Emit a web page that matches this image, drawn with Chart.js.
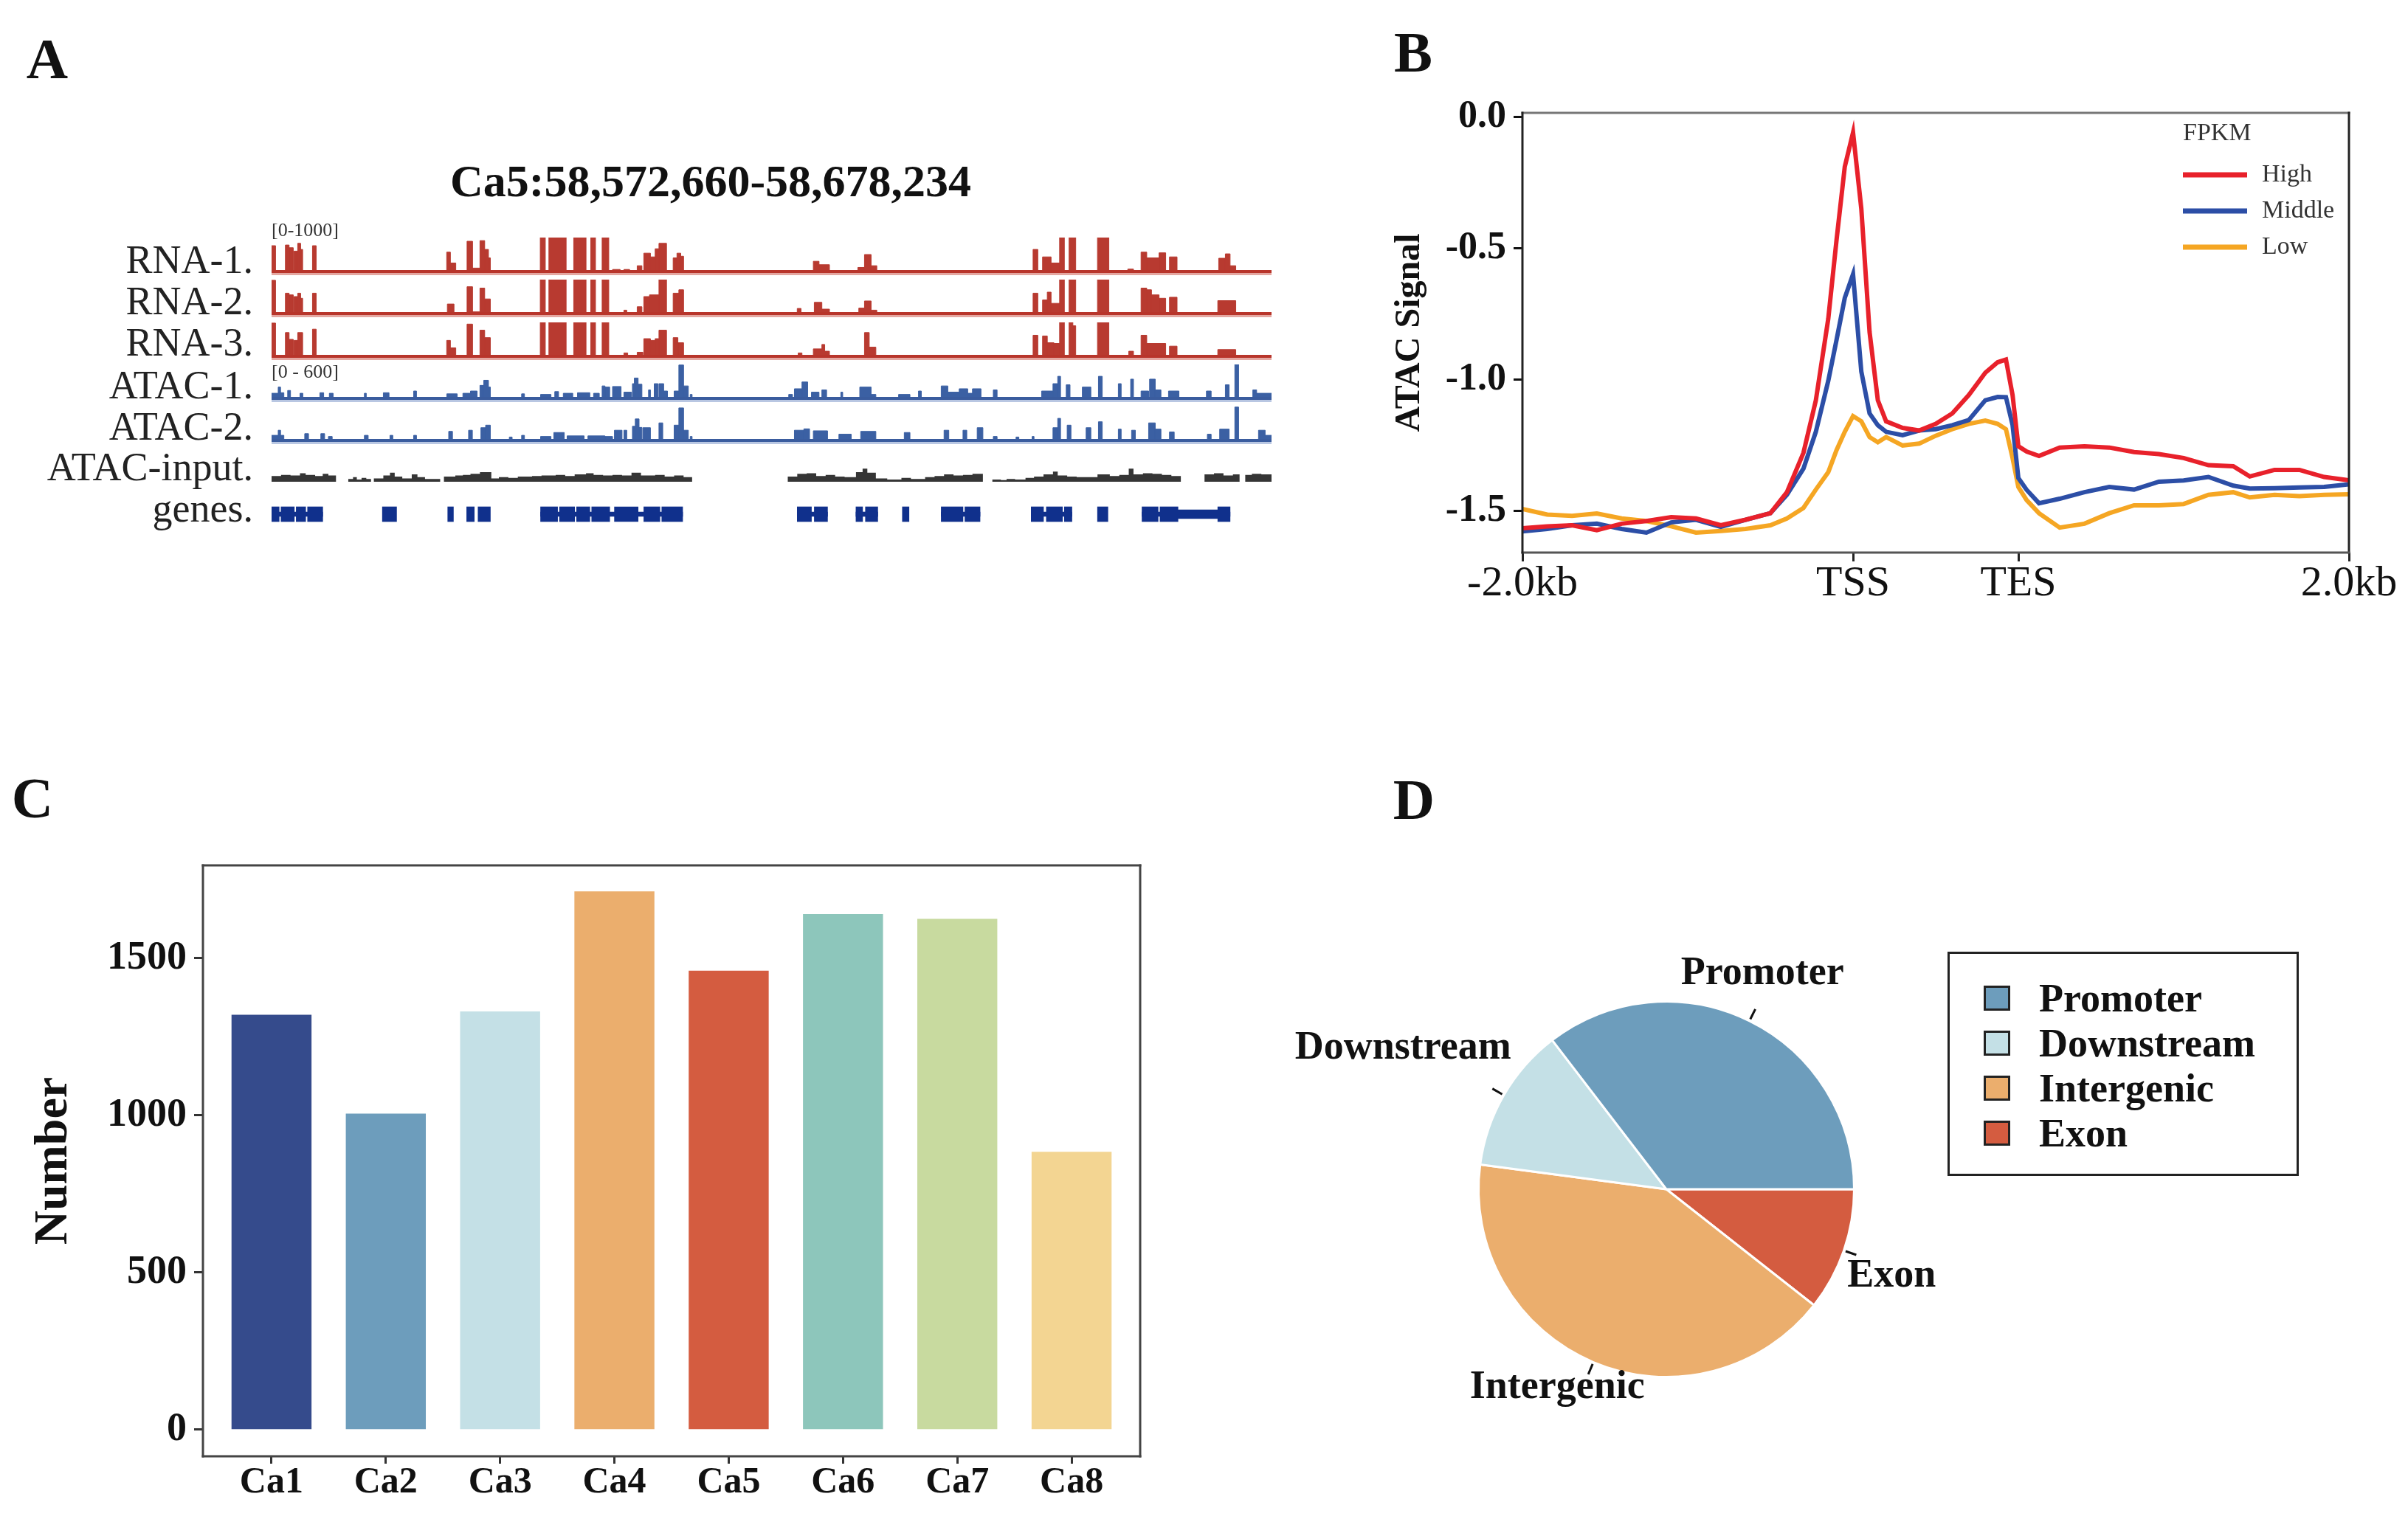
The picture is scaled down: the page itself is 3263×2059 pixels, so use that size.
<!DOCTYPE html>
<html>
<head>
<meta charset="utf-8">
<title>ATAC / RNA figure</title>
<script src="https://cdn.jsdelivr.net/npm/chart.js@4.4.1/dist/chart.umd.min.js"></script>
<style>
  html, body { margin: 0; padding: 0; background: #fff; }
  body { position: relative; width: 3263px; height: 2059px; overflow: hidden;
         font-family: "Liberation Serif", "Times New Roman", serif; color: #111; }
  canvas { position: absolute; }
  .txt { position: absolute; white-space: nowrap; line-height: 1; }
  #legendD { position: absolute; left: 2639px; top: 1290px; width: 476px; height: 304px;
             box-sizing: border-box; border: 3px solid #222; }
  .sw { position: absolute; width: 36px; height: 34px; box-sizing: border-box; border: 3px solid #222; }
</style>
</head>
<body>
<script>
// ---------- panel A : browser tracks ----------
const locusChrom = 'Ca5';
const locusStart = 58572660;
const locusEnd = 58678234;
const trackNames = ['RNA-1.', 'RNA-2.', 'RNA-3.', 'ATAC-1.', 'ATAC-2.', 'ATAC-input.', 'genes.'];
const rnaRange = 1000;
const atacRange = 600;

// [start kb, end kb, value]
const rna1Segs = [
  [0.0,0.42,760],[1.46,1.85,780],[1.85,2.29,700],[2.37,2.76,600],[2.76,3.07,830],[3.07,3.28,650],[4.32,4.71,760],
  [18.49,18.88,570],[18.88,19.45,250],[20.64,21.22,890],[21.22,22.0,100],[22.0,22.5,910],[22.5,22.9,650],[22.9,23.1,400],
  [28.37,28.9,1000],[29.28,31.1,1000],[31.9,33.2,1000],[33.7,34.2,1000],[34.9,35.6,1000],
  [36.0,36.8,60],[37.2,37.8,60],[38.6,39.1,170],[39.3,40.0,540],[40.0,40.5,430],[40.5,40.9,670],[40.9,41.7,830],
  [42.4,42.8,400],[42.8,43.2,540],[43.2,43.5,450],
  [57.2,57.8,300],[57.8,58.9,200],[61.9,62.6,120],[62.6,63.3,500],[63.3,63.9,170],
  [80.4,80.9,650],[81.4,82.3,430],[82.3,83.2,250],[83.2,83.7,1000],[84.2,84.9,1000],[87.2,88.4,1000],
  [90.4,91.0,70],[91.8,92.4,570],[92.4,93.7,400],[93.7,94.4,550],[94.8,95.6,430],
  [100.0,100.7,390],[100.7,101.2,520],[101.2,101.8,170]
];
const rna2Segs = [
  [0.0,0.42,980],[1.46,1.85,600],[1.85,2.29,550],[2.37,2.76,500],[2.76,3.07,600],[3.07,3.28,450],[4.32,4.71,600],
  [18.56,19.26,280],[20.64,21.22,790],[21.22,22.0,50],[22.0,22.5,750],[22.5,23.1,430],
  [28.37,28.9,1000],[29.28,31.1,1000],[31.9,33.2,1000],[33.7,34.2,1000],[34.9,35.6,1000],
  [37.2,37.5,100],[38.6,39.1,200],[39.3,39.9,500],[39.9,40.9,550],[40.9,41.7,1000],[42.4,43.0,600],[43.0,43.5,700],
  [55.5,55.9,150],[57.3,58.1,330],[58.1,58.9,130],[62.0,62.6,160],[62.6,63.3,370],[63.3,63.9,100],
  [80.4,80.9,600],[81.4,81.9,400],[81.9,82.3,630],[82.3,83.2,300],[83.2,83.7,1000],[84.2,84.9,1000],[87.2,88.4,1000],
  [91.8,92.4,750],[92.4,92.9,700],[92.9,93.7,550],[93.7,94.4,450],[94.8,95.6,480],
  [99.9,101.8,380]
];
const rna3Segs = [
  [0.0,0.42,980],[1.46,1.85,700],[1.85,2.29,500],[2.37,2.76,470],[2.76,3.28,700],[4.32,4.71,800],
  [18.49,18.88,470],[18.88,19.45,250],[20.64,21.22,950],[22.0,22.5,770],[22.5,23.1,550],
  [28.37,28.9,1000],[29.28,31.1,1000],[31.9,33.2,1000],[33.7,34.2,1000],[34.9,35.6,1000],
  [37.2,37.6,100],[38.6,39.2,120],[39.3,40.0,520],[40.0,40.5,470],[40.5,40.9,520],[40.9,41.7,770],[42.4,42.9,550],[42.9,43.5,400],
  [55.6,56.0,100],[57.2,58.1,220],[58.1,58.4,350],[58.4,58.9,150],[62.6,63.1,700],[63.1,63.8,270],
  [80.4,80.9,620],[81.4,81.9,600],[81.9,82.6,400],[82.6,83.2,380],[83.2,83.7,1000],[84.2,84.6,1000],[84.6,84.9,900],[87.2,88.4,1000],
  [90.5,91.0,150],[91.8,92.4,620],[92.4,94.4,380],[94.8,95.6,300],
  [99.9,101.8,200]
];
const atac1Segs = [
  [0.0,0.7,90],[0.7,0.95,200],[0.95,1.3,100],[1.7,2.0,140],[3.0,3.3,90],[5.1,5.5,100],[6.1,6.5,90],[9.8,10.0,90],
  [11.8,12.4,100],[15.0,15.3,130],[18.5,19.6,80],[20.2,21.0,90],[21.0,21.7,130],[22.0,22.4,230],[22.4,22.9,320],
  [22.9,23.1,200],[26.4,26.7,80],[28.4,29.5,70],[29.9,30.3,120],[30.8,31.8,90],[32.3,33.6,100],[34.0,34.6,90],
  [34.9,35.2,220],[35.2,35.7,200],[36.0,36.9,210],[37.2,38.0,110],[38.1,38.3,260],[38.3,38.7,360],[38.7,39.1,250],
  [39.8,40.0,150],[40.4,40.8,260],[40.9,41.4,260],[41.4,41.8,130],[42.5,43.0,130],[43.0,43.5,590],[43.5,44.0,220],
  [44.2,44.4,70],[54.6,55.0,70],[55.2,56.0,170],[56.0,56.6,290],[57.0,57.8,110],[58.1,58.6,150],[60.1,60.3,110],
  [62.1,63.3,200],[63.3,63.8,70],[66.2,67.4,70],[68.3,68.6,130],[70.7,71.4,220],[71.4,72.6,110],[72.6,73.5,170],
  [73.5,74.0,90],[74.0,74.9,170],[76.2,76.6,150],[81.3,82.5,130],[82.5,83.0,260],[83.0,83.3,390],[83.9,84.3,240],
  [85.6,86.5,200],[87.3,87.7,390],[89.4,89.7,260],[90.7,91.0,340],[91.8,92.6,130],[92.7,93.3,340],[93.3,93.9,150],
  [94.7,95.8,130],[98.7,99.2,130],[100.7,101.1,240],[101.7,102.1,600],[103.6,104.0,150],[104.0,105.6,90]
];
const atac2Segs = [
  [0.0,0.7,90],[0.7,0.95,180],[0.95,1.3,90],[3.5,3.9,120],[5.2,5.6,120],[6.0,6.4,70],[9.8,10.2,90],[12.5,12.8,90],
  [15.0,15.3,90],[18.7,19.1,160],[20.8,21.2,180],[22.1,22.6,225],[22.6,23.1,270],[25.1,25.4,60],[26.4,26.7,90],
  [28.4,29.5,70],[29.8,30.9,140],[31.2,33.0,80],[33.4,35.2,80],[35.2,36.0,70],[36.2,37.0,180],[37.2,37.5,180],
  [38.1,38.4,250],[38.4,38.8,380],[38.8,39.1,230],[39.2,40.0,225],[40.9,41.3,310],[42.5,43.0,270],[43.0,43.5,575],
  [43.5,44.0,180],[44.2,44.4,70],[55.2,56.2,180],[56.2,56.8,205],[57.2,58.7,170],[59.9,61.2,110],[62.2,63.8,160],
  [66.8,67.4,140],[71.0,71.5,180],[73.0,73.4,180],[74.5,75.1,225],[76.2,76.6,70],[78.6,78.9,60],[80.3,80.5,70],
  [82.5,83.0,225],[83.0,83.3,390],[84.0,84.4,270],[86.0,86.5,225],[87.3,87.7,330],[89.4,89.7,200],[90.8,91.2,180],
  [92.6,93.3,310],[93.3,93.9,200],[94.8,95.3,150],[98.8,99.2,110],[100.1,101.1,200],[101.7,102.1,590],
  [104.2,104.9,180],[104.9,105.6,90]
];
const inputSegs = [
  [0.0,1.0,100],[1.0,2.0,120],[2.0,3.0,110],[3.0,3.6,150],[3.6,4.6,120],[4.6,5.4,100],[5.4,6.0,140],[6.0,6.8,110],
  [8.1,8.6,50],[8.6,9.0,80],[9.0,9.5,40],[9.5,10.0,70],[10.0,10.5,50],
  [10.8,11.8,60],[11.8,12.5,110],[12.5,13.0,160],[13.0,13.8,90],[13.8,14.8,60],[14.8,15.4,130],[15.4,16.2,80],[16.2,17.8,50],
  [18.2,19.4,90],[19.4,20.2,110],[20.2,21.0,120],[21.0,22.0,140],[22.0,23.2,170],[23.2,24.0,60],[24.0,25.0,80],
  [25.0,26.0,70],[26.0,27.5,90],[27.5,28.5,100],[28.5,30.0,110],[30.0,31.0,120],[31.0,32.0,100],[32.0,33.2,130],
  [33.2,34.0,150],[34.0,35.0,120],[35.0,36.0,110],[36.0,37.0,120],[37.0,38.0,110],[38.0,39.0,160],[39.0,40.5,110],
  [40.5,41.5,120],[41.5,42.5,90],[42.5,43.5,110],[43.5,44.4,80],
  [54.5,55.5,90],[55.5,56.5,140],[56.5,57.5,150],[57.5,58.5,100],[58.5,59.5,120],[59.5,60.5,90],[60.5,61.7,80],
  [61.7,62.4,170],[62.4,62.9,230],[62.9,63.8,160],[63.8,65.0,60],[65.0,66.5,40],[66.5,67.5,70],[67.5,69.0,50],
  [69.0,70.0,80],[70.0,71.0,100],[71.0,72.0,130],[72.0,73.0,110],[73.0,74.0,120],[74.0,75.1,140],
  [76.1,77.0,40],[77.0,77.6,30],[77.6,78.5,50],[78.5,79.6,40],
  [79.6,80.5,70],[80.5,81.5,90],[81.5,82.5,130],[82.5,83.0,180],[83.0,84.0,110],[84.0,85.0,90],[85.0,87.2,80],
  [87.2,88.5,130],[88.5,89.5,100],[89.5,90.5,120],[90.5,91.0,230],[91.0,92.0,130],[92.0,93.0,150],[93.0,94.0,140],
  [94.0,95.0,120],[95.0,96.0,100],
  [98.5,99.5,130],[99.5,100.5,150],[100.5,101.5,110],[101.5,102.2,130],[102.8,103.5,120],[103.5,104.5,140],[104.5,105.6,130]
];
// gene models [start kb, end kb]
const geneExons = [
  [0.0,0.8],[1.0,2.4],[2.6,3.6],[3.8,5.4],[11.7,13.2],[18.6,19.2],[20.6,21.4],[21.8,23.1],[28.4,30.2],[30.4,32.0],
  [32.2,33.6],[33.8,35.7],[36.2,38.7],[39.3,41.0],[41.2,43.4],[55.5,57.0],[57.3,58.7],[61.7,62.4],[62.7,64.0],
  [66.6,67.3],[70.7,73.0],[73.2,74.8],[80.2,81.5],[81.8,83.5],[83.7,84.5],[87.2,88.3],[91.9,93.6],[93.8,95.7],[99.9,101.2]
];
const geneUtrs = [[95.7,99.9]];
const geneIntrons = [[0.0,5.4],[28.4,43.4],[55.5,58.7],[61.7,64.0],[70.7,74.8],[80.2,84.5],[91.9,101.2]];

// ---------- panel B : ATAC profile ----------
const profilePos = [0,3,6,9,12,15,18,21,24,27,30,32,34,35.5,37,38,39,40,41,42,43,44,46,48,50,52,54,56,57.5,58.5,
                    59.3,60,61,62.5,65,68,71,74,77,80,83,86,88,91,94,97,100];
const profileHigh = [-1.567,-1.56,-1.556,-1.575,-1.55,-1.54,-1.525,-1.53,-1.556,-1.535,
                     -1.51,-1.43,-1.28,-1.08,-0.77,-0.47,-0.19,-0.06,-0.35,-0.82,
                     -1.08,-1.16,-1.185,-1.195,-1.17,-1.13,-1.06,-0.975,-0.935,-0.925,
                     -1.06,-1.255,-1.275,-1.292,-1.26,-1.255,-1.26,-1.277,-1.285,-1.30,
                     -1.327,-1.331,-1.37,-1.345,-1.345,-1.372,-1.385];
const profileMiddle = [-1.579,-1.57,-1.556,-1.55,-1.57,-1.584,-1.545,-1.535,-1.562,-1.535,
                       -1.51,-1.44,-1.34,-1.2,-1.006,-0.85,-0.69,-0.60,-0.97,-1.13,
                       -1.175,-1.2,-1.213,-1.195,-1.19,-1.175,-1.155,-1.08,-1.067,-1.068,
                       -1.174,-1.376,-1.421,-1.472,-1.455,-1.43,-1.41,-1.42,-1.39,-1.385,
                       -1.372,-1.405,-1.416,-1.415,-1.412,-1.41,-1.40];
const profileLow = [-1.494,-1.515,-1.52,-1.511,-1.53,-1.54,-1.56,-1.584,-1.578,-1.57,
                    -1.556,-1.53,-1.49,-1.42,-1.354,-1.27,-1.2,-1.14,-1.16,-1.22,
                    -1.24,-1.22,-1.252,-1.245,-1.215,-1.19,-1.17,-1.157,-1.17,-1.19,
                    -1.3,-1.41,-1.46,-1.51,-1.565,-1.55,-1.51,-1.48,-1.48,-1.475,
                    -1.44,-1.43,-1.45,-1.44,-1.445,-1.44,-1.438];
const profileGroups = ['High', 'Middle', 'Low'];
const profileTickPos = [0, 40, 60, 100];
const profileTickLabels = ['-2.0kb', 'TSS', 'TES', '2.0kb'];
const signalTicks = [0, -0.5, -1.0, -1.5];
const signalTickLabels = ['0.0', '-0.5', '-1.0', '-1.5'];

// ---------- panel C : peak numbers ----------
const sampleNames = ['Ca1', 'Ca2', 'Ca3', 'Ca4', 'Ca5', 'Ca6', 'Ca7', 'Ca8'];
const peakCounts = [1320, 1005, 1330, 1712, 1460, 1640, 1625, 884];
const countTicks = [0, 500, 1000, 1500];

// ---------- panel D : genomic distribution ----------
const regionNames = ['Promoter', 'Downstream', 'Intergenic', 'Exon'];
const regionShares = [35.4, 12.5, 41.5, 10.6];

// colours
const sampleColors = ['#354b8c', '#6d9dbc', '#c4e0e6', '#ebae6d', '#d45c40', '#8dc6bb', '#c8da9f', '#f3d592'];
const regionColors = ['#6d9dbc', '#c4e0e6', '#ebae6d', '#d45c40'];
const profileColors = ['#e8212b', '#2c4ea6', '#f5a623'];

const SERIF = '"Liberation Serif", "Times New Roman", serif';
Chart.defaults.font.family = SERIF;
Chart.defaults.color = '#111';
Chart.defaults.animation = false;
Chart.defaults.responsive = false;
Chart.defaults.devicePixelRatio = 1;
Chart.defaults.plugins.legend.display = false;
Chart.defaults.plugins.tooltip.enabled = false;

function makeCanvas(left, top, w, h) {
  const c = document.createElement('canvas');
  c.width = w; c.height = h;
  c.style.left = left + 'px'; c.style.top = top + 'px';
  c.style.width = w + 'px'; c.style.height = h + 'px';
  document.body.appendChild(c);
  return c;
}

function addText(str, x, y, size, opts = {}) {
  const d = document.createElement('div');
  d.className = 'txt';
  d.textContent = str;
  d.style.left = x + 'px';
  d.style.top = y + 'px';
  d.style.fontSize = size + 'px';
  d.style.fontWeight = opts.bold ? 'bold' : 'normal';
  d.style.color = opts.color || '#111';
  const tx = opts.align === 'right' ? '-100%' : opts.align === 'left' ? '0' : '-50%';
  d.style.transform = 'translate(' + tx + ',-50%)';
  document.body.appendChild(d);
  return d;
}

// thick baseline under a signal track
const baselinePlugin = {
  id: 'baseline',
  afterDatasetsDraw(chart, args, opts) {
    const {ctx, chartArea: a} = chart;
    ctx.save();
    ctx.fillStyle = opts.light;
    ctx.fillRect(a.left, a.bottom + 1, a.right - a.left, 4);
    ctx.fillStyle = opts.color;
    ctx.fillRect(a.left, a.bottom - 2, a.right - a.left, 4);
    ctx.restore();
  }
};

// box around the plot area
const framePlugin = {
  id: 'frame',
  afterDatasetsDraw(chart, args, opts) {
    const {ctx, chartArea: a} = chart;
    const side = (c, x1, y1, x2, y2) => {
      ctx.strokeStyle = c; ctx.beginPath(); ctx.moveTo(x1, y1); ctx.lineTo(x2, y2); ctx.stroke();
    };
    ctx.save();
    ctx.lineWidth = opts.width;
    ctx.lineCap = 'square';
    side(opts.top || opts.color, a.left, a.top, a.right, a.top);
    side(opts.color, a.right, a.top, a.right, a.bottom);
    side(opts.bottom || opts.color, a.left, a.bottom, a.right, a.bottom);
    side(opts.color, a.left, a.top, a.left, a.bottom);
    ctx.restore();
  }
};

// legend drawn inside the plot area (panel B)
const insideLegend = {
  id: 'insideLegend',
  afterDraw(chart, args, opts) {
    const {ctx, chartArea: a} = chart;
    const x0 = a.right - opts.fromRight;
    ctx.save();
    ctx.font = opts.size + 'px ' + SERIF;
    ctx.fillStyle = '#333';
    ctx.textBaseline = 'middle';
    ctx.textAlign = 'left';
    ctx.fillText(opts.title, x0, a.top + opts.titleDy);
    chart.data.datasets.forEach((ds, i) => {
      const y = a.top + opts.firstDy + i * opts.rowGap;
      ctx.strokeStyle = ds.borderColor;
      ctx.lineWidth = 7;
      ctx.beginPath(); ctx.moveTo(x0, y); ctx.lineTo(x0 + opts.lineLen, y); ctx.stroke();
      ctx.fillText(ds.label, x0 + opts.lineLen + 20, y);
    });
    ctx.restore();
  }
};

// outside labels with short leader ticks (panel D)
const pieLabels = {
  id: 'pieLabels',
  afterDraw(chart, args, opts) {
    const {ctx} = chart;
    const meta = chart.getDatasetMeta(0);
    ctx.save();
    ctx.font = 'bold ' + opts.size + 'px ' + SERIF;
    ctx.fillStyle = '#111';
    ctx.strokeStyle = '#111';
    ctx.lineWidth = 3;
    ctx.textAlign = 'center';
    ctx.textBaseline = 'middle';
    meta.data.forEach((arc, i) => {
      const p = arc.getProps(['x', 'y', 'startAngle', 'endAngle', 'outerRadius'], true);
      const mid = (p.startAngle + p.endAngle) / 2;
      const c = Math.cos(mid), s = Math.sin(mid), r = p.outerRadius;
      ctx.beginPath();
      ctx.moveTo(p.x + c * r * 1.01, p.y + s * r * 1.01);
      ctx.lineTo(p.x + c * r * 1.07, p.y + s * r * 1.07);
      ctx.stroke();
      const label = chart.data.labels[i];
      const off = opts.offsets[label] || [0, 0];
      ctx.fillText(label, p.x + c * r * 1.12 + off[0], p.y + s * r * 1.12 + off[1]);
    });
    ctx.restore();
  }
};

// ---------- draw panel A ----------
const locusKb = (locusEnd - locusStart) / 1000;
const trackLeft = 368, trackWidth = 1355;

function toSteps(segs) {
  const pts = [];
  segs.forEach(([s, e, v]) => { pts.push({x: s, y: v}); pts.push({x: e, y: 0}); });
  return pts;
}

function signalTrack(top, base, segs, range, color, line) {
  const pad = line ? 6 : 0;
  new Chart(makeCanvas(trackLeft, top, trackWidth, base - top + pad), {
    type: 'line',
    data: { datasets: [{ data: toSteps(segs), stepped: 'before', fill: 'origin',
                         backgroundColor: color, borderColor: color, borderWidth: line ? 1 : 0, pointRadius: 0 }] },
    options: {
      layout: { padding: { bottom: pad } },
      scales: {
        x: { type: 'linear', min: 0, max: locusKb, display: false },
        y: { type: 'linear', min: 0, max: range, display: false }
      },
      plugins: { baseline: line || false }
    },
    plugins: [baselinePlugin]
  });
}

const RNA_RED = '#b83a30', ATAC_BLUE = '#3b60a3';
signalTrack(322, 368, rna1Segs, rnaRange, RNA_RED, {color: '#b8352b', light: '#e4a7a1'});
signalTrack(379, 425, rna2Segs, rnaRange, RNA_RED, {color: '#b8352b', light: '#e4a7a1'});
signalTrack(437, 483, rna3Segs, rnaRange, RNA_RED, {color: '#b8352b', light: '#e4a7a1'});
signalTrack(494, 540, atac1Segs, atacRange, ATAC_BLUE, {color: '#3a5c9e', light: '#b9c7e2'});
signalTrack(551, 597, atac2Segs, atacRange, ATAC_BLUE, {color: '#3a5c9e', light: '#b9c7e2'});
signalTrack(607, 653, inputSegs, atacRange, '#353535', null);

const GENE_BLUE = '#10308c';
const geneBars = (list, thick) => ({
  data: list.map(([s, e]) => ({x: [s, e], y: 0})),
  backgroundColor: GENE_BLUE, barThickness: thick, grouped: false
});
new Chart(makeCanvas(trackLeft, 682, trackWidth, 30), {
  type: 'bar',
  data: { datasets: [geneBars(geneIntrons, 6), geneBars(geneUtrs, 12), geneBars(geneExons, 20)] },
  options: {
    indexAxis: 'y',
    scales: {
      x: { type: 'linear', min: 0, max: locusKb, display: false },
      y: { type: 'linear', min: -1, max: 1, display: false }
    }
  }
});

const fmt = n => n.toLocaleString('en-US');
addText(locusChrom + ':' + fmt(locusStart) + '-' + fmt(locusEnd), 963, 245, 62, {bold: true});
const labelY = [352, 408, 464, 522, 578, 633, 689];
trackNames.forEach((name, i) => addText(name, 343, labelY[i], 54, {align: 'right', color: '#222'}));
addText('[0-' + rnaRange + ']', 368, 312, 26, {align: 'left', color: '#333'});
addText('[0 - ' + atacRange + ']', 368, 504, 26, {align: 'left', color: '#333'});

// ---------- draw panel B ----------
new Chart(makeCanvas(1880, 100, 1383, 760), {
  type: 'line',
  data: {
    datasets: [profileHigh, profileMiddle, profileLow].map((vals, k) => ({
      label: profileGroups[k],
      data: vals.map((v, i) => ({x: profilePos[i], y: v})),
      borderColor: profileColors[k],
      borderWidth: 6,
      pointRadius: 0,
      tension: 0,
      fill: false
    }))
  },
  options: {
    layout: { padding: { top: 53, right: 80, left: 0, bottom: 0 } },
    scales: {
      x: {
        type: 'linear', min: 0, max: 100,
        afterBuildTicks: s => { s.ticks = profileTickPos.map(v => ({value: v})); },
        afterFit: s => { s.height = 111; },
        ticks: { callback: (v, i) => profileTickLabels[i], autoSkip: false, maxRotation: 0,
                 font: { size: 58, lineHeight: 1 }, padding: 2, color: '#111' },
        grid: { display: true, drawOnChartArea: false, tickLength: 12, tickColor: '#222', tickWidth: 3 },
        border: { display: false }
      },
      y: {
        type: 'linear', min: -1.66, max: 0.015,
        afterBuildTicks: s => { s.ticks = signalTicks.map(v => ({value: v})); },
        afterFit: s => { s.width = 183; },
        ticks: { callback: (v, i) => signalTickLabels[i], autoSkip: false,
                 font: { size: 52, weight: 'bold' }, padding: 10, color: '#111' },
        grid: { display: true, drawOnChartArea: false, tickLength: 12, tickColor: '#111', tickWidth: 3 },
        border: { display: false },
        title: { display: true, text: 'ATAC Signal', font: { size: 48, weight: 'bold' },
                 padding: { top: 2, bottom: 0 }, color: '#111' }
      }
    },
    plugins: {
      frame: { color: '#222', top: '#777', bottom: '#555', width: 3 },
      insideLegend: { title: 'FPKM', size: 34, fromRight: 225, titleDy: 28, firstDy: 84, rowGap: 49, lineLen: 87 }
    }
  },
  plugins: [framePlugin, insideLegend]
});

// ---------- draw panel C ----------
new Chart(makeCanvas(0, 1100, 1600, 959), {
  type: 'bar',
  data: {
    datasets: [{
      data: peakCounts.map((v, i) => ({x: i + 1, y: v})),
      backgroundColor: sampleColors,
      borderWidth: 0,
      categoryPercentage: 1,
      barPercentage: 0.7
    }]
  },
  options: {
    layout: { padding: { top: 73, right: 55, left: 0, bottom: 0 } },
    scales: {
      x: {
        type: 'linear', min: 0.4, max: sampleNames.length + 0.6, offset: false,
        afterBuildTicks: s => { s.ticks = sampleNames.map((n, i) => ({value: i + 1})); },
        afterFit: s => { s.height = 85; },
        ticks: { callback: (v, i) => sampleNames[i], autoSkip: false, maxRotation: 0,
                 font: { size: 50, weight: 'bold', lineHeight: 1 }, padding: 1, color: '#111' },
        grid: { display: true, offset: false, drawOnChartArea: false, tickLength: 10, tickColor: '#333', tickWidth: 3 },
        border: { display: false }
      },
      y: {
        type: 'linear', min: -85, max: 1795,
        afterBuildTicks: s => { s.ticks = countTicks.map(v => ({value: v})); },
        afterFit: s => { s.width = 275; },
        ticks: { callback: v => String(v), autoSkip: false,
                 font: { size: 54, weight: 'bold' }, padding: 10, color: '#111' },
        grid: { display: true, drawOnChartArea: false, tickLength: 12, tickColor: '#333', tickWidth: 3 },
        border: { display: false },
        title: { display: true, text: 'Number', font: { size: 64, weight: 'bold' },
                 padding: { top: 35, bottom: 0 }, color: '#111' }
      }
    },
    plugins: { frame: { color: '#444', width: 3 } }
  },
  plugins: [framePlugin]
});

// ---------- draw panel D ----------
// drawn clockwise from 3 o'clock, so the list runs in reverse
new Chart(makeCanvas(1700, 1250, 1000, 750), {
  type: 'pie',
  data: {
    labels: regionNames.slice().reverse(),
    datasets: [{
      data: regionShares.slice().reverse(),
      backgroundColor: regionColors.slice().reverse(),
      borderColor: '#fff',
      borderWidth: 3
    }]
  },
  options: {
    rotation: 90,
    layout: { padding: { left: 302, right: 186, top: 106, bottom: 132 } },
    plugins: {
      pieLabels: { size: 54, offsets: { Promoter: [4, -36], Downstream: [-110, -48], Intergenic: [-37, 6], Exon: [36, 25] } }
    }
  },
  plugins: [pieLabels]
});

const legendD = document.createElement('div');
legendD.id = 'legendD';
document.body.appendChild(legendD);
regionNames.forEach((name, i) => {
  const cy = 1353 + i * 61;
  const sw = document.createElement('div');
  sw.className = 'sw';
  sw.style.left = '2688px';
  sw.style.top = (cy - 17) + 'px';
  sw.style.background = regionColors[i];
  document.body.appendChild(sw);
  addText(name, 2763, cy, 54, {bold: true, align: 'left'});
});

// panel letters
addText('A', 64, 80, 78, {bold: true});
addText('B', 1915, 71, 78, {bold: true});
addText('C', 44, 1082, 78, {bold: true});
addText('D', 1916, 1084, 78, {bold: true});
</script>
</body>
</html>
